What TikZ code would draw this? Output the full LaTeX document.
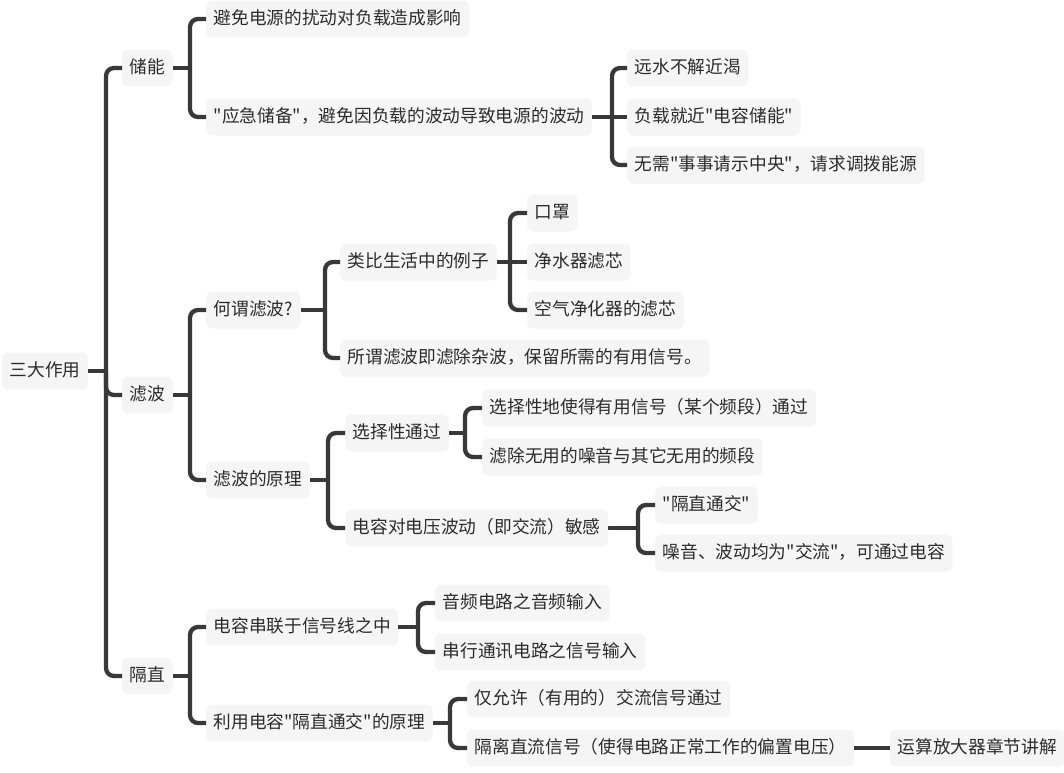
\documentclass[tikz,border=0pt]{standalone}
\usepackage{fontspec}
\setmainfont{Noto Sans CJK SC}[Ligatures=TeXOff]
\definecolor{boxfill}{HTML}{F5F5F5}
\definecolor{linecol}{HTML}{383838}
\definecolor{txtcol}{HTML}{2B2B2B}
\begin{document}
\begin{tikzpicture}[x=1pt,y=-1pt,
  box/.style={anchor=west,fill=boxfill,rounded corners=6pt,text=txtcol,
    inner xsep=7.5pt,inner ysep=0pt,minimum height=37pt,
    text height=14pt,text depth=2.5pt,
    font=\fontsize{17.7pt}{21pt}\selectfont},
  conn/.style={draw=linecol,line width=4.3pt},
  branch/.style={conn,rounded corners=8pt}]
\useasboundingbox (0,0) rectangle (1064,772);
% nodes
\node[box] (root) at (2,371) {三大作用};
\node[box] (A) at (122,68) {储能};
\node[box] (A1) at (206,19) {避免电源的扰动对负载造成影响};
\node[box] (A2) at (206,117) {"应急储备"，避免因负载的波动导致电源的波动};
\node[box] (A21) at (627,68) {远水不解近渴};
\node[box] (A22) at (627,117) {负载就近"电容储能"};
\node[box] (A23) at (627,165) {无需"事事请示中央"，请求调拨能源};
\node[box] (B) at (122,395) {滤波};
\node[box] (B1) at (206,310) {何谓滤波?};
\node[box] (B11) at (340,262) {类比生活中的例子};
\node[box] (B111) at (527,213) {口罩};
\node[box] (B112) at (527,262) {净水器滤芯};
\node[box] (B113) at (527,310) {空气净化器的滤芯};
\node[box] (B12) at (340,358) {所谓滤波即滤除杂波，保留所需的有用信号。};
\node[box] (B2) at (206,480) {滤波的原理};
\node[box] (B21) at (345,433) {选择性通过};
\node[box] (B211) at (482,408) {选择性地使得有用信号（某个频段）通过};
\node[box] (B212) at (482,457) {滤除无用的噪音与其它无用的频段};
\node[box] (B22) at (345,528) {电容对电压波动（即交流）敏感};
\node[box] (B221) at (655,505) {"隔直通交"};
\node[box] (B222) at (655,553) {噪音、波动均为"交流"，可通过电容};
\node[box] (C) at (122,676) {隔直};
\node[box] (C1) at (206,627) {电容串联于信号线之中};
\node[box] (C11) at (435,603) {音频电路之音频输入};
\node[box] (C12) at (435,652) {串行通讯电路之信号输入};
\node[box] (C2) at (206,723) {利用电容"隔直通交"的原理};
\node[box] (C21) at (467,699) {仅允许（有用的）交流信号通过};
\node[box] (C22) at (467,748) {隔离直流信号（使得电路正常工作的偏置电压）};
\node[box] (C221) at (890,748) {运算放大器章节讲解};
% junctions
\coordinate (jR) at (106,371);
\coordinate (jA) at (190,68);
\coordinate (jA2) at (612,117);
\coordinate (jB) at (190,395);
\coordinate (jB1) at (325,310);
\coordinate (jB11) at (510,262);
\coordinate (jB2) at (328,480);
\coordinate (jB21) at (465,433);
\coordinate (jB22) at (638,528);
\coordinate (jC) at (190,676);
\coordinate (jC1) at (418,627);
\coordinate (jC2) at (450,723);
% connectors
\draw[conn] (root.east) -- (jR);
\draw[branch] (jR) |- (A.west);
\draw[branch] (jR) |- (B.west);
\draw[branch] (jR) |- (C.west);
\draw[conn] (A.east) -- (jA);
\draw[branch] (jA) |- (A1.west);
\draw[branch] (jA) |- (A2.west);
\draw[conn] (A2.east) -- (jA2);
\draw[branch] (jA2) |- (A21.west);
\draw[conn] (jA2) -- (A22.west);
\draw[branch] (jA2) |- (A23.west);
\draw[conn] (B.east) -- (jB);
\draw[branch] (jB) |- (B1.west);
\draw[branch] (jB) |- (B2.west);
\draw[conn] (B1.east) -- (jB1);
\draw[branch] (jB1) |- (B11.west);
\draw[branch] (jB1) |- (B12.west);
\draw[conn] (B11.east) -- (jB11);
\draw[branch] (jB11) |- (B111.west);
\draw[conn] (jB11) -- (B112.west);
\draw[branch] (jB11) |- (B113.west);
\draw[conn] (B2.east) -- (jB2);
\draw[branch] (jB2) |- (B21.west);
\draw[branch] (jB2) |- (B22.west);
\draw[conn] (B21.east) -- (jB21);
\draw[branch] (jB21) |- (B211.west);
\draw[branch] (jB21) |- (B212.west);
\draw[conn] (B22.east) -- (jB22);
\draw[branch] (jB22) |- (B221.west);
\draw[branch] (jB22) |- (B222.west);
\draw[conn] (C.east) -- (jC);
\draw[branch] (jC) |- (C1.west);
\draw[branch] (jC) |- (C2.west);
\draw[conn] (C1.east) -- (jC1);
\draw[branch] (jC1) |- (C11.west);
\draw[branch] (jC1) |- (C12.west);
\draw[conn] (C2.east) -- (jC2);
\draw[branch] (jC2) |- (C21.west);
\draw[branch] (jC2) |- (C22.west);
\draw[conn] (C22.east) -- (C221.west);
\end{tikzpicture}
\end{document}
